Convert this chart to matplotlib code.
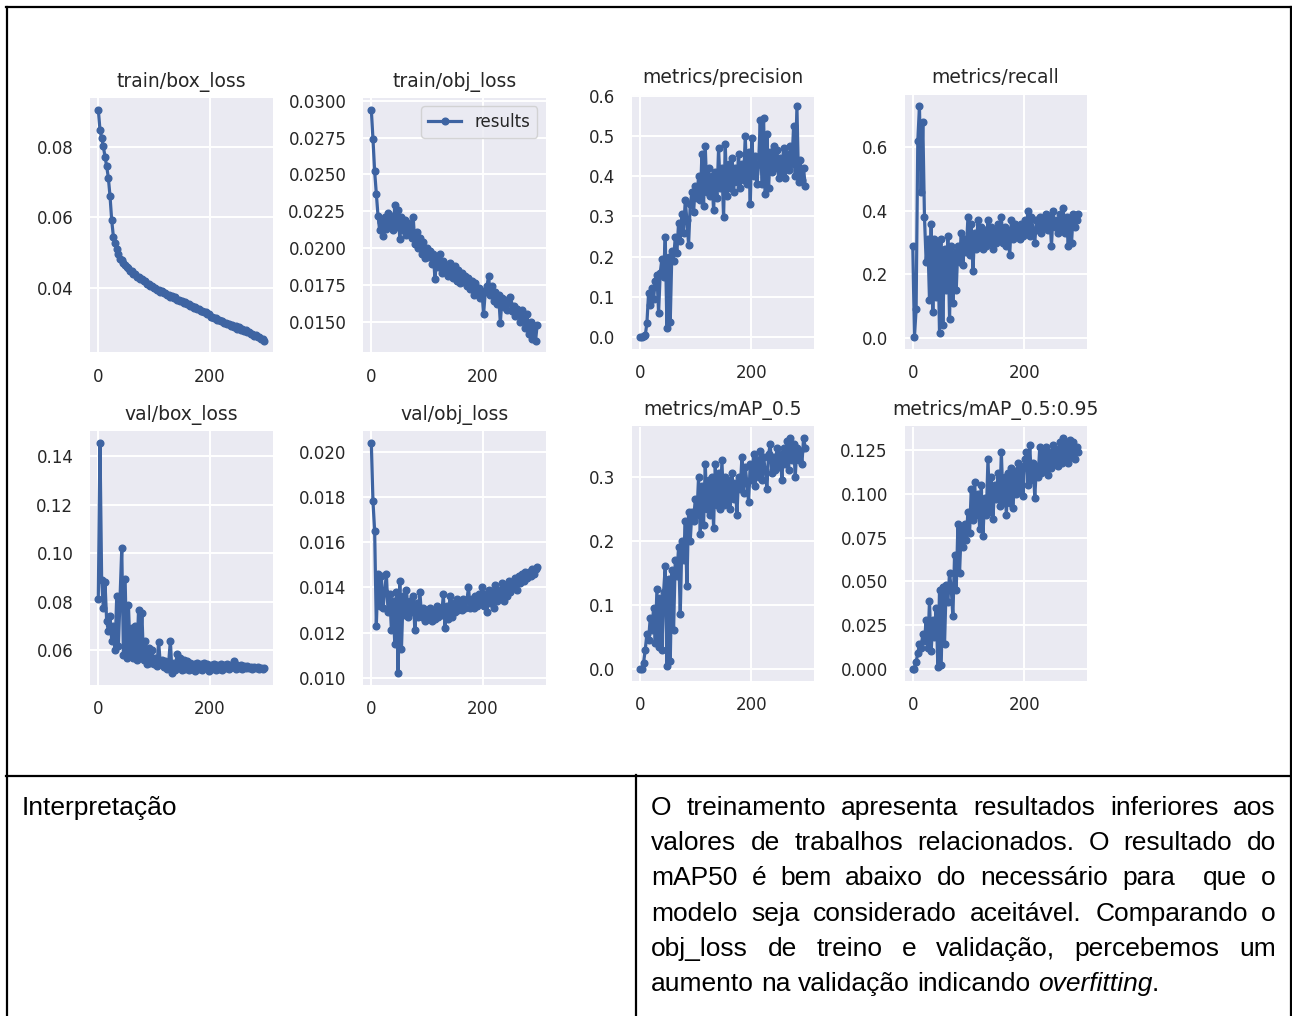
import matplotlib
matplotlib.use("Agg")
import matplotlib.pyplot as plt

W, H = 1292, 1016

# epochs sampled every 3 (0..297)
EPOCHS = list(range(0, 300, 3))

TRAIN_BOX = [
    0.0905, 0.0848, 0.0826, 0.0801, 0.0772, 0.0745, 0.0712, 0.0660, 0.0592, 0.0546,
    0.0529, 0.0510, 0.0496, 0.0484, 0.0479, 0.0470, 0.0467, 0.0459, 0.0457, 0.0450,
    0.0448, 0.0441, 0.0439, 0.0433, 0.0431, 0.0426, 0.0425, 0.0420, 0.0419, 0.0413,
    0.0412, 0.0406, 0.0406, 0.0400, 0.0400, 0.0395, 0.0395, 0.0390, 0.0391, 0.0386,
    0.0386, 0.0380, 0.0382, 0.0376, 0.0378, 0.0371, 0.0374, 0.0368, 0.0368, 0.0364,
    0.0365, 0.0358, 0.0360, 0.0354, 0.0356, 0.0349, 0.0351, 0.0344, 0.0346, 0.0340,
    0.0341, 0.0335, 0.0337, 0.0332, 0.0332, 0.0326, 0.0326, 0.0320, 0.0320, 0.0315,
    0.0315, 0.0310, 0.0311, 0.0306, 0.0307, 0.0302, 0.0303, 0.0298, 0.0299, 0.0294,
    0.0296, 0.0290, 0.0292, 0.0286, 0.0289, 0.0283, 0.0285, 0.0279, 0.0281, 0.0275,
    0.0277, 0.0271, 0.0272, 0.0266, 0.0268, 0.0261, 0.0262, 0.0256, 0.0257, 0.0251,
]

TRAIN_OBJ = [
    0.0294, 0.0274, 0.0252, 0.0237, 0.0222, 0.0212, 0.0218, 0.0208, 0.0221, 0.0213,
    0.0224, 0.0216, 0.0222, 0.0212, 0.0229, 0.0214, 0.0226, 0.0206, 0.0221, 0.0212,
    0.0219, 0.0209, 0.0217, 0.0213, 0.0207, 0.0221, 0.0203, 0.0211, 0.0200, 0.0207,
    0.0196, 0.0204, 0.0193, 0.0200, 0.0194, 0.0198, 0.0189, 0.0196, 0.0179, 0.0193,
    0.0187, 0.0196, 0.0183, 0.0191, 0.0185, 0.0188, 0.0181, 0.0190, 0.0184, 0.0180,
    0.0188, 0.0178, 0.0185, 0.0176, 0.0183, 0.0177, 0.0181, 0.0174, 0.0180, 0.0172,
    0.0178, 0.0168, 0.0176, 0.0170, 0.0173, 0.0166, 0.0171, 0.0155, 0.0170, 0.0174,
    0.0181, 0.0168, 0.0174, 0.0164, 0.0170, 0.0162, 0.0168, 0.0149, 0.0166, 0.0160,
    0.0165, 0.0158, 0.0163, 0.0167, 0.0157, 0.0161, 0.0154, 0.0159, 0.0156, 0.0150,
    0.0158, 0.0152, 0.0146, 0.0155, 0.0142, 0.0150, 0.0138, 0.0147, 0.0137, 0.0148,
]

PRECISION = [
    0.000, 0.000, 0.002, 0.004, 0.035, 0.110, 0.080, 0.122, 0.095, 0.140,
    0.155, 0.060, 0.160, 0.195, 0.150, 0.250, 0.022, 0.200, 0.038, 0.215,
    0.190, 0.250, 0.210, 0.285, 0.240, 0.305, 0.260, 0.340, 0.290, 0.230,
    0.330, 0.360, 0.310, 0.375, 0.345, 0.400, 0.340, 0.455, 0.325, 0.475,
    0.360, 0.420, 0.350, 0.400, 0.315, 0.410, 0.345, 0.470, 0.370, 0.420,
    0.298, 0.480, 0.350, 0.430, 0.370, 0.445, 0.360, 0.420, 0.385, 0.455,
    0.370, 0.430, 0.390, 0.500, 0.380, 0.460, 0.330, 0.495, 0.400, 0.450,
    0.380, 0.430, 0.540, 0.380, 0.545, 0.355, 0.505, 0.370, 0.460, 0.410,
    0.475, 0.420, 0.465, 0.395, 0.445, 0.410, 0.470, 0.395, 0.455, 0.415,
    0.475, 0.430, 0.525, 0.400, 0.575, 0.385, 0.440, 0.390, 0.420, 0.375,
]

RECALL = [
    0.290, 0.003, 0.090, 0.620, 0.730, 0.460, 0.680, 0.380, 0.240, 0.310,
    0.120, 0.360, 0.080, 0.310, 0.130, 0.300, 0.015, 0.310, 0.040, 0.280,
    0.150, 0.320, 0.060, 0.290, 0.110, 0.270, 0.150, 0.290, 0.240, 0.330,
    0.230, 0.310, 0.270, 0.380, 0.260, 0.360, 0.210, 0.330, 0.280, 0.370,
    0.290, 0.350, 0.280, 0.340, 0.290, 0.370, 0.300, 0.350, 0.280, 0.340,
    0.300, 0.360, 0.310, 0.380, 0.300, 0.350, 0.290, 0.340, 0.260, 0.370,
    0.310, 0.360, 0.320, 0.350, 0.310, 0.360, 0.320, 0.370, 0.330, 0.400,
    0.320, 0.380, 0.340, 0.300, 0.370, 0.340, 0.380, 0.330, 0.370, 0.350,
    0.390, 0.340, 0.380, 0.290, 0.400, 0.350, 0.370, 0.330, 0.390, 0.340,
    0.410, 0.330, 0.380, 0.290, 0.370, 0.300, 0.390, 0.350, 0.370, 0.390,
]

VAL_BOX = [
    0.0810, 0.1455, 0.0890, 0.0775, 0.0880, 0.0720, 0.0680, 0.0740, 0.0640, 0.0700,
    0.0600, 0.0825, 0.0620, 0.0820, 0.1020, 0.0580, 0.0895, 0.0570, 0.0785, 0.0590,
    0.0690, 0.0570, 0.0700, 0.0560, 0.0765, 0.0580, 0.0755, 0.0560, 0.0640, 0.0545,
    0.0610, 0.0550, 0.0600, 0.0545, 0.0570, 0.0535, 0.0635, 0.0545, 0.0560, 0.0530,
    0.0555, 0.0525, 0.0550, 0.0640, 0.0505, 0.0550, 0.0520, 0.0585, 0.0530, 0.0570,
    0.0520, 0.0560, 0.0525, 0.0555, 0.0520, 0.0550, 0.0525, 0.0545, 0.0515, 0.0550,
    0.0525, 0.0545, 0.0520, 0.0550, 0.0530, 0.0545, 0.0515, 0.0540, 0.0525, 0.0545,
    0.0520, 0.0540, 0.0525, 0.0545, 0.0520, 0.0540, 0.0528, 0.0545, 0.0525, 0.0540,
    0.0530, 0.0555, 0.0525, 0.0540, 0.0528, 0.0538, 0.0524, 0.0536, 0.0527, 0.0535,
    0.0526, 0.0533, 0.0525, 0.0532, 0.0526, 0.0530, 0.0524, 0.0528, 0.0523, 0.0527,
]

VAL_OBJ = [
    0.0204, 0.0178, 0.0165, 0.0123, 0.0146, 0.0132, 0.0145, 0.0131, 0.0138, 0.0146,
    0.0129, 0.0137, 0.0121, 0.0134, 0.0115, 0.0138, 0.0102, 0.0143, 0.0113, 0.0136,
    0.0128, 0.0139, 0.0127, 0.0134, 0.0129, 0.0136, 0.0121, 0.0133, 0.0127, 0.0138,
    0.0127, 0.0131, 0.0125, 0.0130, 0.0126, 0.0131, 0.0125, 0.0129, 0.0126, 0.0132,
    0.0127, 0.0131, 0.0128, 0.0137, 0.0122, 0.0132, 0.0126, 0.0136, 0.0127, 0.0133,
    0.0129, 0.0135, 0.0130, 0.0134, 0.0130, 0.0135, 0.0131, 0.0134, 0.0140, 0.0131,
    0.0135, 0.0131, 0.0136, 0.0132, 0.0137, 0.0133, 0.0140, 0.0132, 0.0137, 0.0129,
    0.0139, 0.0133, 0.0138, 0.0131, 0.0141, 0.0134, 0.0139, 0.0136, 0.0142, 0.0134,
    0.0141, 0.0136, 0.0143, 0.0138, 0.0142, 0.0140, 0.0144, 0.0139, 0.0145, 0.0142,
    0.0146, 0.0143, 0.0147, 0.0144, 0.0147, 0.0145, 0.0148, 0.0146, 0.0148, 0.0149,
]

MAP50 = [
    0.000, 0.000, 0.010, 0.030, 0.055, 0.045, 0.080, 0.060, 0.095, 0.040,
    0.125, 0.035, 0.110, 0.030, 0.120, 0.160, 0.005, 0.140, 0.012, 0.155,
    0.060, 0.170, 0.145, 0.190, 0.085, 0.200, 0.170, 0.230, 0.130, 0.245,
    0.200, 0.245, 0.230, 0.265, 0.240, 0.300, 0.210, 0.285, 0.225, 0.320,
    0.250, 0.295, 0.240, 0.300, 0.220, 0.320, 0.255, 0.305, 0.250, 0.325,
    0.255, 0.300, 0.260, 0.295, 0.250, 0.305, 0.265, 0.290, 0.240, 0.300,
    0.280, 0.330, 0.275, 0.315, 0.290, 0.260, 0.320, 0.295, 0.335, 0.285,
    0.325, 0.300, 0.340, 0.295, 0.330, 0.310, 0.280, 0.335, 0.350, 0.305,
    0.330, 0.310, 0.345, 0.315, 0.335, 0.295, 0.345, 0.320, 0.355, 0.310,
    0.360, 0.325, 0.350, 0.300, 0.345, 0.325, 0.340, 0.320, 0.360, 0.345,
]

MAP50_95 = [
    0.000, 0.000, 0.004, 0.009, 0.014, 0.012, 0.020, 0.016, 0.028, 0.012,
    0.039, 0.010, 0.028, 0.018, 0.035, 0.001, 0.045, 0.002, 0.047, 0.014,
    0.048, 0.038, 0.055, 0.046, 0.030, 0.065, 0.045, 0.083, 0.055, 0.080,
    0.070, 0.083, 0.074, 0.090, 0.078, 0.103, 0.085, 0.107, 0.088, 0.100,
    0.080, 0.105, 0.076, 0.098, 0.088, 0.120, 0.090, 0.110, 0.086, 0.105,
    0.097, 0.112, 0.093, 0.124, 0.095, 0.110, 0.088, 0.112, 0.095, 0.115,
    0.092, 0.113, 0.100, 0.118, 0.102, 0.116, 0.099, 0.120, 0.124, 0.105,
    0.128, 0.108, 0.118, 0.098, 0.116, 0.110, 0.127, 0.112, 0.125, 0.113,
    0.127, 0.111, 0.124, 0.115, 0.128, 0.117, 0.126, 0.116, 0.130, 0.118,
    0.132, 0.120, 0.129, 0.118, 0.131, 0.121, 0.130, 0.120, 0.127, 0.124,
]

TITLES = ["train/box_loss", "train/obj_loss", "metrics/precision", "metrics/recall",
          "val/box_loss", "val/obj_loss", "metrics/mAP_0.5", "metrics/mAP_0.5:0.95"]
SERIES = [TRAIN_BOX, TRAIN_OBJ, PRECISION, RECALL, VAL_BOX, VAL_OBJ, MAP50, MAP50_95]
YTICKS = [
    [0.04, 0.06, 0.08],
    [0.0150, 0.0175, 0.0200, 0.0225, 0.0250, 0.0275, 0.0300],
    [0.0, 0.1, 0.2, 0.3, 0.4, 0.5, 0.6],
    [0.0, 0.2, 0.4, 0.6],
    [0.06, 0.08, 0.10, 0.12, 0.14],
    [0.010, 0.012, 0.014, 0.016, 0.018, 0.020],
    [0.0, 0.1, 0.2, 0.3],
    [0.000, 0.025, 0.050, 0.075, 0.100, 0.125],
]
YFMT = ["{:.2f}", "{:.4f}", "{:.1f}", "{:.1f}", "{:.2f}", "{:.3f}", "{:.1f}", "{:.3f}"]
XTICKS = [0, 200]

# axes boxes in pixels: left, top, right, bottom
BOXES = [
    (90, 98, 272.5, 352.5), (363, 98, 545.5, 352.5),
    (632, 94.5, 813.5, 348.5), (904.5, 94.5, 1086.5, 348.5),
    (90, 431, 272.5, 685), (363, 431, 545.5, 685),
    (632, 426.5, 813.5, 680.5), (904.5, 426.5, 1086.5, 680.5),
]

LINE_COLOR = "#3E64A2"
TEXT_COLOR = "#262626"

fig = plt.figure(figsize=(W / 100, H / 100), dpi=100)
fig.patch.set_facecolor("white")

for i, (l, t, r, b) in enumerate(BOXES):
    ax = fig.add_axes([l / W, 1 - b / H, (r - l) / W, (b - t) / H])
    ax.set_facecolor("#EAEAF2")
    for s in ax.spines.values():
        s.set_visible(False)
    ax.grid(True, color="white", linewidth=1.4)
    ax.set_axisbelow(True)
    ax.plot(EPOCHS, SERIES[i], marker="o", markersize=4.8, linewidth=2.3,
            color=LINE_COLOR, label="results")
    ax.set_xticks(XTICKS)
    ax.set_yticks(YTICKS[i])
    ax.set_yticklabels([YFMT[i].format(v) for v in YTICKS[i]])
    ax.tick_params(length=0, pad=12, labelsize=12, labelcolor=TEXT_COLOR)
    ax.tick_params(axis="x", pad=11)
    ax.set_title(TITLES[i], fontsize=13.5, color=TEXT_COLOR, pad=8)
    if i == 1:
        ax.legend(loc="upper right", fontsize=12, facecolor="#EAEAF2",
                  edgecolor="#CCCCCC", framealpha=0.8, labelcolor=TEXT_COLOR)

# table frame
def hline(y, x0, x1):
    fig.add_artist(plt.Line2D([x0 / W, x1 / W], [1 - y / H, 1 - y / H],
                              color="black", linewidth=1.6))

def vline(x, y0, y1):
    fig.add_artist(plt.Line2D([x / W, x / W], [1 - y0 / H, 1 - y1 / H],
                              color="black", linewidth=1.6))

hline(7, 6, 1291)
hline(775.5, 6, 1291)
vline(6.5, 7, 1016)
vline(1290.5, 7, 1016)
vline(636, 775, 1016)

FONT = "Liberation Sans"
FS = 19
fig.text(22 / W, 1 - 808 / H, "Interpretação", fontsize=FS, family=FONT,
         va="center", ha="left")

LINES = [
    "O treinamento apresenta resultados inferiores aos",
    "valores de trabalhos relacionados. O resultado do",
    "mAP50 é bem abaixo do necessário para  que o",
    "modelo seja considerado aceitável. Comparando o",
    "obj_loss de treino e validação, percebemos um",
]
LAST = [("aumento na validação indicando ", "normal"), ("overfitting", "italic"), (".", "normal")]

renderer = fig.canvas.get_renderer()
left_px, right_px = 651, 1276
y0, dy = 808, 35.2

def width(txt):
    return txt.get_window_extent(renderer).width

for k, line in enumerate(LINES):
    y = 1 - (y0 + k * dy) / H
    words = line.split(" ")
    arts = [fig.text(0, y, w, fontsize=FS, family=FONT, va="center", ha="left")
            for w in words]
    ws = [width(a) if a.get_text() else 0 for a in arts]
    gap = (right_px - left_px - sum(ws)) / (len(words) - 1)
    x = left_px
    for a, wd in zip(arts, ws):
        a.set_x(x / W)
        x += wd + gap

# last line, left aligned
y = 1 - (y0 + len(LINES) * dy) / H
probe_a = fig.text(0, 0, "a a", fontsize=FS, family=FONT)
probe_b = fig.text(0, 0, "aa", fontsize=FS, family=FONT)
space = width(probe_a) - width(probe_b)
probe_a.remove()
probe_b.remove()
x = left_px
for seg, style in LAST:
    parts = seg.split(" ")
    for j, p in enumerate(parts):
        if p:
            a = fig.text(x / W, y, p, fontsize=FS, family=FONT, style=style,
                         va="center", ha="left")
            x += width(a)
        if j < len(parts) - 1:
            x += space

fig.savefig("out.png", dpi=100)
